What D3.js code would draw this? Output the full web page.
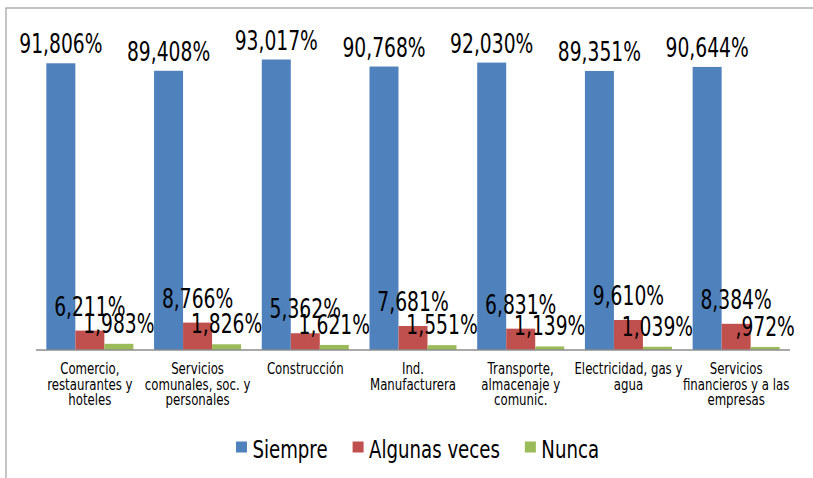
<!DOCTYPE html>
<meta charset="utf-8">
<style>
	body {
	margin: 0;
	background-color: #fff;
	}
	text {
	font-family: "DejaVu Sans", Verdana, sans-serif;
	fill: #000;
	}
	.frame {
	fill: none;
	stroke: #a6a6a6;
	stroke-width: 1.3;
	}
	.axis-line {
	stroke: #8c8c8c;
	stroke-width: 1.5;
	}
	.value {
	font-size: 26px;
	}
	.cat {
	font-size: 15.5px;
	}
	.legend text {
	font-size: 24.7px;
	}
</style>
<body>
	<script src="https://cdn.jsdelivr.net/npm/d3@7"></script>
	<script>
		var categories = [
		  ["Comercio,", "restaurantes y", "hoteles"],
		  ["Servicios", "comunales, soc. y", "personales"],
		  ["Construcción"],
		  ["Ind.", "Manufacturera"],
		  ["Transporte,", "almacenaje y", "comunic."],
		  ["Electricidad, gas y", "agua"],
		  ["Servicios", "financieros y a las", "empresas"]
		];
		var seriesNames = ["Siempre", "Algunas veces", "Nunca"];
		var siempre = [91.806, 89.408, 93.017, 90.768, 92.030, 89.351, 90.644];
		var algunas = [6.211, 8.766, 5.362, 7.681, 6.831, 9.610, 8.384];
		var nunca = [1.983, 1.826, 1.621, 1.551, 1.139, 1.039, 0.972];
		var colors = ["#4f81bd", "#c0504d", "#9bbb59"];

		var width = 813,
		    height = 478;

		// the original font is a narrow Tahoma, so squeeze DejaVu horizontally
		var squeeze = {value: 0.72, cat: 0.76, legend: 0.735};

		function at(px, py, sx) {
		  return "translate(" + px + "," + py + ") scale(" + sx + ",1)";
		}

		var svg = d3.select("body").append("svg")
		    .attr("width", width)
		    .attr("height", height);

		// chart frame, runs off the right and bottom edge like the original
		svg.append("rect")
		    .attr("class", "frame")
		    .attr("x", 6).attr("y", 8)
		    .attr("width", width).attr("height", height);

		var values = [siempre, algunas, nunca];
		var catIdx = d3.range(categories.length);

		var x = d3.scaleBand()
		    .domain(catIdx)
		    .range([36, 790])
		    .paddingInner(0.192)
		    .paddingOuter(0.096);

		var xs = d3.scaleBand()
		    .domain(d3.range(seriesNames.length))
		    .range([0, x.bandwidth()]);

		var y = d3.scaleLinear()
		    .domain([0, 100])
		    .range([350, 37.7]);

		var loc = d3.formatLocale({decimal: ",", thousands: ".", grouping: [3], currency: ["", ""]});
		var f3 = loc.format(".3f");
		function pct(v) {
		  return f3(v).replace(/^0,/, ",") + "%";
		}

		// label offset above each bar, per series
		var labelGap = [10, 15, 11];

		var groups = svg.append("g").attr("class", "bars")
		    .selectAll("g").data(catIdx)
		  .enter().append("g")
		    .attr("transform", function(i) { return "translate(" + x(i) + ",0)"; });

		groups.selectAll("rect")
		    .data(function(i) { return values.map(function(s, k) { return {k: k, v: s[i]}; }); })
		  .enter().append("rect")
		    .attr("x", function(d) { return xs(d.k); })
		    .attr("width", xs.bandwidth())
		    .attr("y", function(d) { return y(d.v); })
		    .attr("height", function(d) { return y(0) - y(d.v); })
		    .attr("fill", function(d) { return colors[d.k]; });

		svg.append("line")
		    .attr("class", "axis-line")
		    .attr("x1", 36).attr("x2", 790)
		    .attr("y1", y(0)).attr("y2", y(0));

		// value labels drawn after all bars so they sit on top
		var lab = svg.append("g").attr("class", "labels");
		catIdx.forEach(function(i) {
		  values.forEach(function(s, k) {
		    lab.append("text")
		      .attr("class", "value")
		      .attr("text-anchor", "middle")
		      .attr("transform", at(x(i) + xs(k) + xs.bandwidth() / 2, y(s[i]) - labelGap[k], squeeze.value))
		      .text(pct(s[i]));
		  });
		});

		var cat = svg.append("g").attr("class", "cats")
		    .selectAll("text").data(catIdx)
		  .enter().append("text")
		    .attr("class", "cat")
		    .attr("text-anchor", "middle")
		    .attr("transform", function(i) { return at(x(i) + x.bandwidth() / 2, 374, squeeze.cat); });
		cat.selectAll("tspan")
		    .data(function(i) { return categories[i]; })
		  .enter().append("tspan")
		    .attr("x", 0)
		    .attr("dy", function(d, j) { return j ? 15.7 : 0; })
		    .text(function(d) { return d; });

		// legend, laid out from measured text widths and centred
		var legend = svg.append("g").attr("class", "legend");
		var items = legend.selectAll("g").data(seriesNames)
		  .enter().append("g");
		items.append("rect")
		    .attr("width", 11).attr("height", 11)
		    .attr("y", 441.5)
		    .attr("fill", function(d, k) { return colors[k]; });
		items.append("text")
		    .attr("transform", at(16.5, 458.3, squeeze.legend))
		    .text(function(d) { return d; });
		var pos = 0, offs = [];
		items.each(function() {
		  offs.push(pos);
		  pos += 16.5 + this.querySelector("text").getComputedTextLength() * squeeze.legend + 25;
		});
		pos -= 25;
		var start = 417.5 - pos / 2;
		items.attr("transform", function(d, k) { return "translate(" + (start + offs[k]) + ",0)"; });
	</script>
